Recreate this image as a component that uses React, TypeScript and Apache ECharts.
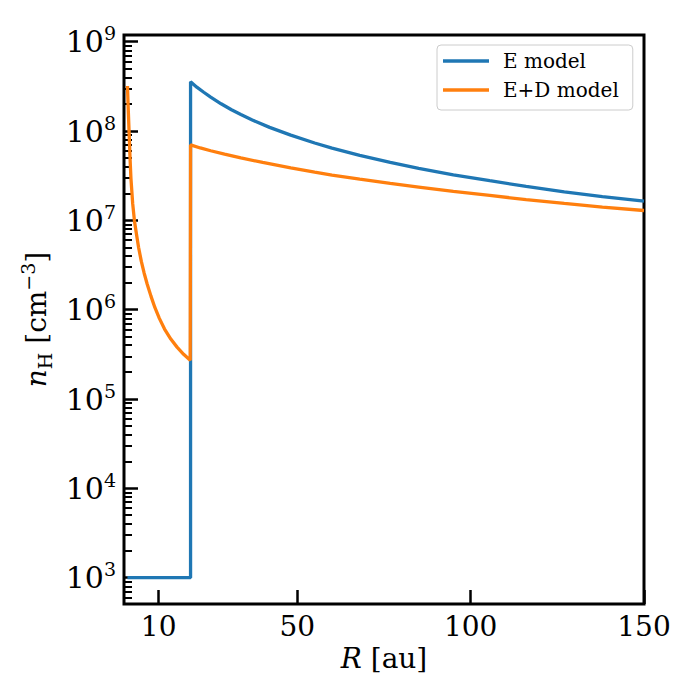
import React, { useEffect, useRef } from "react";
import * as echarts from "echarts";

// ---- data ----
const xTickValues = [10, 50, 100, 150];
const yMajorTicks = [1e3, 1e4, 1e5, 1e6, 1e7, 1e8, 1e9];
const yMinorMultipliers = [2, 3, 4, 5, 6, 7, 8, 9];

// E model (R in au, n_H in cm^-3)
const rE = [1, 19.2, 19.2, 21, 23, 25, 28, 31, 33.7, 37, 42, 48.1, 55, 60, 68, 76.8, 85, 95, 105.5, 116, 127, 138, 150];
const nE = [1e3, 1e3, 3.56e8, 3.1e8, 2.72e8, 2.4e8, 2.02e8, 1.73e8, 1.53e8, 1.33e8, 1.1e8, 9.0e7, 7.35e7, 6.45e7, 5.35e7, 4.47e7, 3.83e7, 3.24e7, 2.78e7, 2.4e7, 2.09e7, 1.85e7, 1.64e7];

// E+D model
const rED = [1.0, 1.25, 1.5, 1.75, 2.0, 2.5, 3.0, 3.6, 4.2, 5.0, 5.8, 6.7, 7.8, 8.9, 10.2, 11.7, 13.5, 15.3, 17.2, 19.1, 19.2, 22, 25, 29, 33.7, 40, 48.1, 55, 60, 68, 76.8, 85, 95, 105.5, 116, 127, 138, 150];
const nED = [3.2e8, 1.65e8, 9.0e7, 4.9e7, 2.95e7, 1.55e7, 1.0e7, 7.0e6, 5.0e6, 3.47e6, 2.58e6, 1.93e6, 1.41e6, 1.06e6, 8.0e5, 6.07e5, 4.69e5, 3.81e5, 3.17e5, 2.72e5, 7.0e7, 6.47e7, 6.02e7, 5.52e7, 5.01e7, 4.45e7, 3.87e7, 3.47e7, 3.22e7, 2.89e7, 2.59e7, 2.36e7, 2.11e7, 1.9e7, 1.71e7, 1.55e7, 1.41e7, 1.29e7];

const seriesNames = ["E model", "E+D model"];
const seriesColors = ["#1f77b4", "#ff7f0e"];

const xMin = 0;
const xMax = 150;
const yMin = 507;
const yMax = 1.19e9;

const FONT = "DejaVu Serif";

export default function App() {
  const ref = useRef<HTMLDivElement>(null);

  useEffect(() => {
    if (!ref.current) return;
    const chart = echarts.init(ref.current, undefined, { renderer: "svg" });

    const yMinorTicks: number[] = [];
    for (let e = 2; e <= 9; e++) {
      for (const m of yMinorMultipliers) {
        const v = m * Math.pow(10, e);
        if (v > yMin && v < yMax) yMinorTicks.push(v);
      }
    }

    const supRich = {
      b: { fontSize: 30, lineHeight: 36, fontFamily: FONT, color: "#000" },
      s: { fontSize: 19, lineHeight: 19, fontFamily: FONT, color: "#000", verticalAlign: "top" },
    };

    const option: any = {
      animation: false,
      backgroundColor: "#fff",
      textStyle: { fontFamily: FONT },
      grid: {
        left: 124,
        right: 56,
        top: 35,
        bottom: 96,
        show: true,
        borderColor: "#000",
        borderWidth: 3,
        backgroundColor: "transparent",
      },
      legend: {
        left: 437,
        top: 45,
        orient: "vertical",
        padding: [6, 14, 10, 6],
        itemGap: 9,
        itemWidth: 46,
        itemHeight: 3.4,
        icon: "rect",
        backgroundColor: "#fff",
        borderColor: "#cccccc",
        borderWidth: 1,
        borderRadius: 4,
        textStyle: { fontSize: 20, lineHeight: 20, fontFamily: FONT, color: "#000", padding: [0, 0, 0, 9] },
        data: seriesNames,
      },
      xAxis: {
        type: "value",
        min: xMin,
        max: xMax,
        axisLine: { show: false },
        axisTick: { show: true, inside: true, length: 14, lineStyle: { color: "#000", width: 2.5 }, customValues: xTickValues },
        axisLabel: { customValues: xTickValues, fontSize: 28, color: "#000", margin: 8, fontFamily: FONT },
        splitLine: { show: false },
        name: "{i|R} [au]",
        nameLocation: "middle",
        nameGap: 38,
        nameTextStyle: {
          fontSize: 28,
          color: "#000",
          fontFamily: FONT,
          rich: { i: { fontSize: 28, fontStyle: "italic", fontFamily: FONT, color: "#000" } },
        },
      },
      yAxis: [
        {
          type: "log",
          logBase: 10,
          min: yMin,
          max: yMax,
          axisLine: { show: false },
          axisTick: { show: true, inside: true, length: 14, lineStyle: { color: "#000", width: 2.5 }, customValues: yMajorTicks },
          axisLabel: {
            customValues: yMajorTicks,
            margin: 8,
            formatter: (v: number) => `{b|10}{s|${Math.round(Math.log10(v))}}`,
            rich: supRich,
          },
          splitLine: { show: false },
          minorTick: { show: false },
          name: "{i|n}{sub|H} [cm{sup|−3}]",
          nameLocation: "middle",
          nameRotate: 90,
          nameGap: 58,
          nameTextStyle: {
            fontSize: 28,
            lineHeight: 36,
            color: "#000",
            fontFamily: FONT,
            rich: {
              i: { fontSize: 28, lineHeight: 36, fontStyle: "italic", fontFamily: FONT, color: "#000" },
              sub: { fontSize: 19, lineHeight: 18, fontFamily: FONT, color: "#000", verticalAlign: "bottom" },
              sup: { fontSize: 19, lineHeight: 19, fontFamily: FONT, color: "#000", verticalAlign: "top" },
            },
          },
        },
        {
          type: "log",
          logBase: 10,
          min: yMin,
          max: yMax,
          position: "left",
          axisLine: { show: false },
          axisTick: { show: true, inside: true, length: 8, lineStyle: { color: "#000", width: 2 }, customValues: yMinorTicks },
          axisLabel: { show: false },
          splitLine: { show: false },
        },
      ],
      series: [
        {
          name: seriesNames[0],
          type: "line",
          yAxisIndex: 0,
          data: rE.map((r, i) => [r, nE[i]]),
          symbol: "none",
          showSymbol: false,
          lineStyle: { color: seriesColors[0], width: 3.3 },
          itemStyle: { color: seriesColors[0] },
          z: 3,
        },
        {
          name: seriesNames[1],
          type: "line",
          yAxisIndex: 0,
          data: rED.map((r, i) => [r, nED[i]]),
          symbol: "none",
          showSymbol: false,
          lineStyle: { color: seriesColors[1], width: 3.3 },
          itemStyle: { color: seriesColors[1] },
          z: 4,
        },
      ],
    };

    chart.setOption(option);
    return () => chart.dispose();
  }, []);

  return (
    <div
      ref={ref}
      style={{ position: "fixed", left: 0, top: 0, width: 700, height: 700, background: "#fff" }}
    />
  );
}
